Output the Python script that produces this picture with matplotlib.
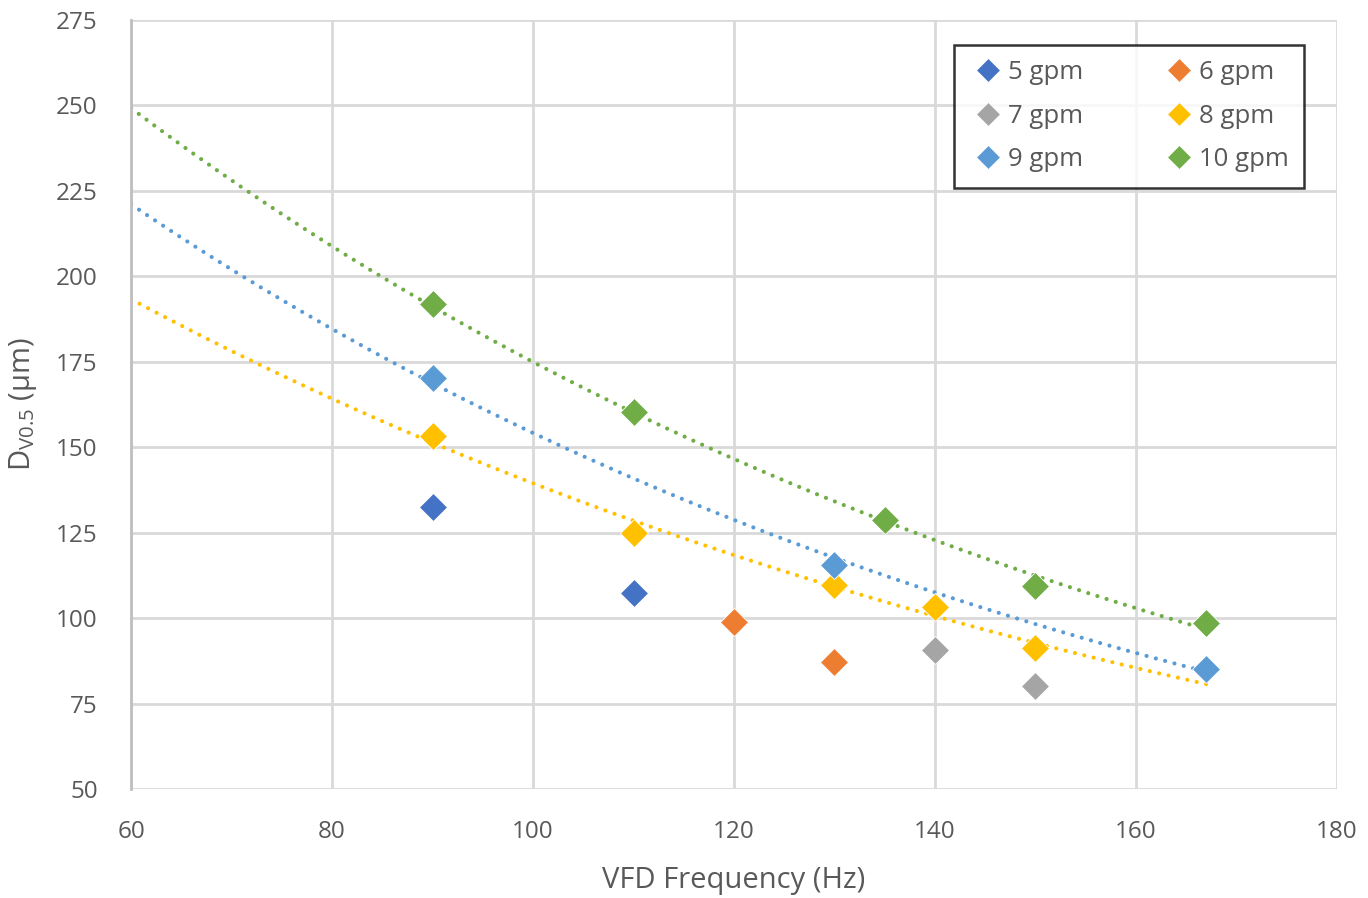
import numpy as np
import matplotlib.pyplot as plt

plt.rcParams['font.family'] = ['Open Sans', 'DejaVu Sans']
plt.rcParams['mathtext.fontset'] = 'custom'
plt.rcParams['mathtext.rm'] = 'Open Sans'

# readings from the chart (x: VFD frequency in Hz, y: Dv0.5 in um)
x5 = [90, 110]
y5 = [132.5, 107.3]
x6 = [120, 130]
y6 = [98.9, 87.2]
x7 = [140, 150]
y7 = [90.7, 80.1]
x8 = [90, 110, 130, 140, 150]
y8 = [153.3, 124.9, 109.7, 103.2, 91.3]
x9 = [90, 130, 167]
y9 = [170.2, 115.5, 85.1]
x10 = [90, 110, 135, 150, 167]
y10 = [191.9, 160.3, 128.7, 109.4, 98.6]

labels = ['5 gpm', '6 gpm', '7 gpm', '8 gpm', '9 gpm', '10 gpm']
colors = ['#4472c4', '#ed7d31', '#a5a5a5', '#ffc000', '#5b9bd5', '#70ad47']
xs = [x5, x6, x7, x8, x9, x10]
ys = [y5, y6, y7, y8, y9, y10]


def expo_fit(x, y):
    # Excel style exponential trendline: fit ln(y) against x
    b, lna = np.polyfit(np.asarray(x, float), np.log(y), 1)
    return np.exp(lna), b


fig = plt.figure(figsize=(13.68, 8.98), dpi=100)
ax = fig.add_axes([0.0958, 0.1214, 0.8815, 0.8563])

# trendlines for 8, 9, 10 gpm (drawn first, under markers)
xt = np.linspace(60, 167, 300)
for i in [3, 4, 5]:
    a, b = expo_fit(xs[i], ys[i])
    ax.plot(xt, a * np.exp(b * xt), color=colors[i], lw=3,
            linestyle=(0, (0.01, 2.3)), dash_capstyle='round', zorder=2)

handles = []
for i in range(6):
    h, = ax.plot(xs[i], ys[i], linestyle='none', marker='D', ms=14,
                 color=colors[i], mec='white', mew=0.6, label=labels[i], zorder=3)
    handles.append(h)

ax.set_xlim(60, 180)
ax.set_ylim(50, 275)
ax.set_xticks(np.arange(60, 181, 20))
ax.set_yticks(np.arange(50, 276, 25))
ax.grid(True, color='#d9d9d9', lw=2)
ax.set_axisbelow(True)
for s in ['top', 'right', 'bottom']:
    ax.spines[s].set_visible(False)
ax.spines['left'].set_color('#bfbfbf')
ax.spines['left'].set_linewidth(2)
ax.tick_params(length=0, labelsize=17.5, labelcolor='#595959')
ax.tick_params(axis='x', pad=22)
ax.tick_params(axis='y', pad=24)

ax.set_xlabel('VFD Frequency (Hz)', fontsize=21, color='#595959', labelpad=16)
ax.set_ylabel(r'D$_{\mathrm{V0.5}}$ (µm)', fontsize=21, color='#595959', labelpad=12)

order = [0, 2, 4, 1, 3, 5]
leg = ax.legend([handles[k] for k in order], [labels[k] for k in order],
                ncol=2, loc='upper right', bbox_to_anchor=(0.9726, 0.9675),
                borderaxespad=0, fontsize=18.5, frameon=True, fancybox=False,
                edgecolor='black', handletextpad=0.0, columnspacing=3.0,
                labelspacing=0.72, borderpad=0.6, markerscale=0.85,
                handlelength=1.5)
leg.get_frame().set_linewidth(1.8)
for t in leg.get_texts():
    t.set_color('#595959')

fig.savefig('out.png', dpi=100, facecolor='white')
